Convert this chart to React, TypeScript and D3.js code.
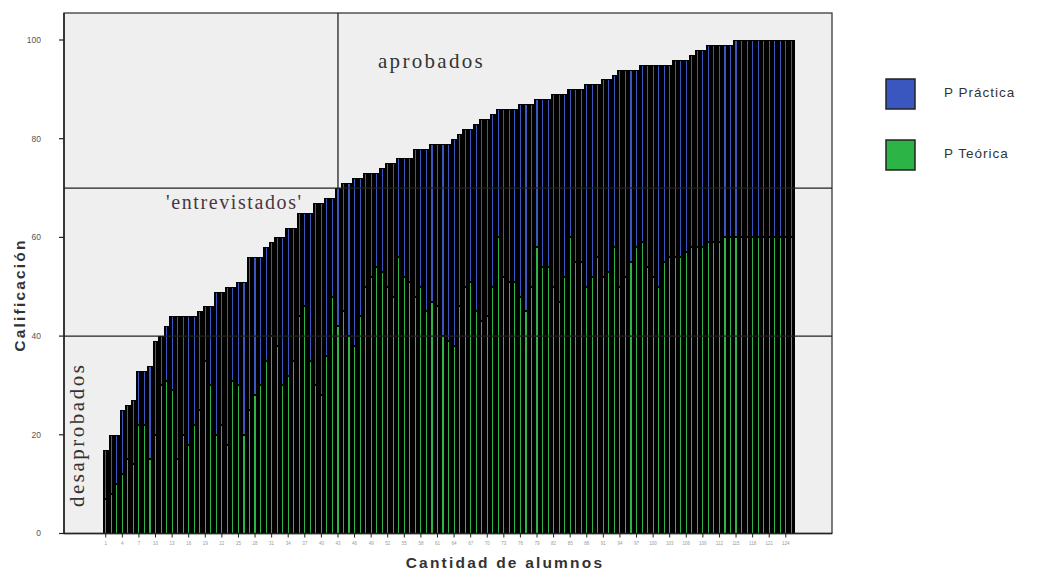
import React from "react";
import * as d3 from "d3";

// Final grade per student, sorted ascending (student 1 … 125)
const calificacion: number[] = [
  17, 20, 20, 25, 26, 27, 33, 33, 34, 39,
  40, 42, 44, 44, 44, 44, 44, 45, 46, 46,
  49, 49, 50, 50, 51, 51, 56, 56, 56, 58,
  59, 60, 60, 62, 62, 65, 65, 65, 67, 67,
  68, 68, 70, 71, 71, 72, 72, 73, 73, 73,
  74, 75, 75, 76, 76, 76, 78, 78, 78, 79,
  79, 79, 79, 80, 81, 82, 82, 83, 84, 84,
  85, 86, 86, 86, 86, 87, 87, 87, 88, 88,
  88, 89, 89, 89, 90, 90, 90, 91, 91, 91,
  92, 92, 93, 94, 94, 94, 94, 95, 95, 95,
  95, 95, 95, 96, 96, 96, 97, 98, 98, 99,
  99, 99, 99, 99, 100, 100, 100, 100, 100, 100,
  100, 100, 100, 100, 100,
];

// Theory part ("P Teórica") of each grade
const teorica: number[] = [
  7, 8, 10, 12, 15, 14, 22, 22, 15, 20,
  30, 31, 29, 15, 20, 18, 22, 25, 35, 30,
  20, 22, 18, 31, 30, 20, 25, 28, 30, 35,
  40, 38, 30, 32, 35, 44, 46, 35, 30, 28,
  36, 48, 42, 45, 40, 38, 44, 50, 52, 54,
  53, 50, 48, 56, 52, 51, 48, 50, 45, 47,
  46, 40, 39, 38, 46, 50, 51, 45, 43, 44,
  50, 60, 52, 51, 51, 48, 45, 50, 58, 54,
  54, 50, 47, 52, 60, 55, 55, 50, 52, 56,
  52, 53, 58, 50, 52, 55, 58, 59, 54, 52,
  50, 55, 56, 56, 56, 57, 58, 58, 58, 59,
  59, 59, 60, 60, 60, 60, 60, 60, 60, 60,
  60, 60, 60, 60, 60,
];

// Practical part ("P Práctica") stacked on top of the theory part
const practica: number[] = calificacion.map((c, i) => c - teorica[i]);

const alumnos: number[] = d3.range(1, calificacion.length + 1);
const yTicks: number[] = [0, 20, 40, 60, 80, 100];
const xTickEvery = 3;

const umbralAprobado = 70;
const umbralEntrevista = 40;

const colorPractica = "#3a57c0";
const colorTeorica = "#2cb446";

const W = 1045;
const H = 571;
const frame = { left: 64, top: 13, right: 832, bottom: 533.5 };

export default function App() {
  const x = d3
    .scaleBand<number>()
    .domain(alumnos)
    .range([103, 794.1])
    .padding(0);
  const y = d3.scaleLinear().domain([0, 100]).range([533.5, 40]);
  const bw = x.bandwidth();
  const inner = 1.1; // visible coloured core inside the black outline of each bar

  const firstPass = calificacion.findIndex((v) => v >= umbralAprobado);
  const passX = (x(alumnos[firstPass]) as number) + bw / 2;

  const sans = "'Liberation Sans', Arial, sans-serif";
  const serif = "'Liberation Serif', 'Times New Roman', serif";

  return (
    <svg
      width={W}
      height={H}
      viewBox={`0 0 ${W} ${H}`}
      style={{ position: "absolute", left: 0, top: 0, background: "#fff" }}
    >
      <rect x={0} y={0} width={W} height={H} fill="#fff" />
      {/* plot panel */}
      <rect
        x={frame.left}
        y={frame.top}
        width={frame.right - frame.left}
        height={frame.bottom - frame.top}
        fill="#efefef"
        stroke="#3a3a3a"
        strokeWidth={1.3}
      />

      {/* bars: black body with coloured stacked segments */}
      <g shapeRendering="crispEdges">
        {alumnos.map((a, i) => {
          const x0 = x(a) as number;
          const cx = x0 + bw / 2;
          const yTop = y(calificacion[i]);
          const yMid = y(calificacion[i] - practica[i]);
          const y0 = y(0);
          return (
            <g key={a}>
              <rect x={x0} y={yTop} width={bw + 0.5} height={y0 - yTop} fill="#000" />
              <rect
                x={cx - inner / 2}
                y={yTop + 1}
                width={inner}
                height={Math.max(0, yMid - yTop - 2)}
                fill={colorPractica}
              />
              <rect
                x={cx - inner / 2}
                y={yMid + 1}
                width={inner}
                height={Math.max(0, y0 - yMid - 1)}
                fill={colorTeorica}
              />
            </g>
          );
        })}
      </g>

      {/* threshold lines */}
      <line
        x1={frame.left}
        x2={frame.right}
        y1={y(umbralAprobado)}
        y2={y(umbralAprobado)}
        stroke="#222"
        strokeWidth={1.3}
      />
      <line
        x1={frame.left}
        x2={frame.right}
        y1={y(umbralEntrevista)}
        y2={y(umbralEntrevista)}
        stroke="#222"
        strokeWidth={1.3}
      />
      <line
        x1={passX}
        x2={passX}
        y1={frame.top}
        y2={y(umbralAprobado)}
        stroke="#222"
        strokeWidth={1.3}
      />

      {/* y axis */}
      <line x1={frame.left} x2={frame.left} y1={frame.top} y2={frame.bottom} stroke="#222" strokeWidth={1.5} />
      {yTicks.map((t) => (
        <g key={t}>
          <line x1={frame.left - 5} x2={frame.left} y1={y(t)} y2={y(t)} stroke="#222" strokeWidth={1.2} />
          <text
            x={41}
            y={y(t)}
            dy="0.35em"
            textAnchor="end"
            fontFamily={sans}
            fontSize={8.5}
            fill="#555"
          >
            {t}
          </text>
        </g>
      ))}

      {/* x axis */}
      <line x1={frame.left} x2={frame.right} y1={frame.bottom} y2={frame.bottom} stroke="#222" strokeWidth={1.5} />
      {alumnos
        .filter((_, i) => i % xTickEvery === 0)
        .map((a) => {
          const cx = (x(a) as number) + bw / 2;
          return (
            <g key={a}>
              <line x1={cx} x2={cx} y1={frame.bottom} y2={frame.bottom + 4} stroke="#222" strokeWidth={1} />
              <text
                x={cx}
                y={frame.bottom + 11}
                textAnchor="middle"
                fontFamily={sans}
                fontSize={4.5}
                fill="#999"
              >
                {a}
              </text>
            </g>
          );
        })}

      {/* axis titles */}
      <text
        x={505}
        y={568}
        textAnchor="middle"
        fontFamily={sans}
        fontSize={15.5}
        fontWeight="bold"
        letterSpacing={2.2}
        fill="#333"
      >
        Cantidad de alumnos
      </text>
      <text
        transform={`translate(25,${295}) rotate(-90)`}
        textAnchor="middle"
        fontFamily={sans}
        fontSize={15.5}
        fontWeight="bold"
        letterSpacing={2.2}
        fill="#333"
      >
        Calificación
      </text>

      {/* region annotations */}
      <text x={378} y={68} fontFamily={serif} fontSize={21} letterSpacing={2.3} fill="#333">
        aprobados
      </text>
      <text x={166} y={209} fontFamily={serif} fontSize={20} letterSpacing={1.6} fill="#4b3540">
        'entrevistados'
      </text>
      <text
        transform="translate(84,507) rotate(-90)"
        fontFamily={serif}
        fontSize={21}
        letterSpacing={2.5}
        fill="#333"
      >
        desaprobados
      </text>

      {/* legend */}
      <rect x={886} y={79} width={29} height={30} fill={colorPractica} stroke="#222" strokeWidth={1.5} />
      <rect x={886} y={140} width={29} height={30} fill={colorTeorica} stroke="#222" strokeWidth={1.5} />
      <text x={944} y={97} fontFamily={sans} fontSize={13.5} letterSpacing={1} fill="#333">
        P Práctica
      </text>
      <text x={944} y={158} fontFamily={sans} fontSize={13.5} letterSpacing={1} fill="#333">
        P Teórica
      </text>
    </svg>
  );
}
